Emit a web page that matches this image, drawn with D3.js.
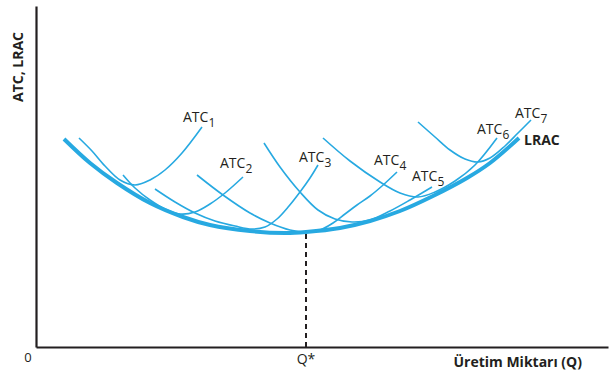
<!DOCTYPE html>
<html><head><meta charset="utf-8">
<script src="https://cdn.jsdelivr.net/npm/d3@7"></script>
<style>
html,body{margin:0;padding:0;background:#fff;}
svg{display:block;font-family:"Open Sans",sans-serif;}
</style></head>
<body><svg id="c" width="615" height="380"></svg>
<script>
// Data units: quantity (Q) and cost
const lrac = [[28,208],[54,184],[81,164],[114,144],[147,130],[174,122],[214,116],[249,114],[270,115],[304,119],[334,126],[364,136],[397,151],[431,169],[454,184],[483,209]];
const atc1 = [[43,209],[56,196],[69,181],[84,167],[99,162],[114,167],[129,177],[146,194],[166,220]];
const atc2 = [[87,172],[99,159],[114,147],[129,138],[144,133],[159,135],[174,143],[189,154],[207,170]];
const atc3 = [[119,158],[139,145],[159,134],[179,126],[199,121],[216,118],[229,120],[241,128],[253,141],[264,155],[274,169],[282,182]];
const atc4 = [[161,172],[187,152],[214,134],[234,124],[254,117],[270,115],[284,117],[297,124],[309,133],[321,142],[334,151],[346,161],[361,175]];
const atc5 = [[228,204],[244,180],[264,155],[282,137],[299,128],[316,125],[334,127],[354,136],[374,147],[396,160]];
const atc6 = [[287,209],[314,186],[344,165],[364,154],[382,150],[399,155],[419,166],[439,182],[461,209]];
const atc7 = [[382,225],[399,210],[414,197],[429,188],[442,185],[454,189],[469,201],[482,214],[495,227]];
const atcCurves = [atc1, atc2, atc3, atc4, atc5, atc6, atc7];
const atcSubs = ["1","2","3","4","5","6","7"];
const atcLabelPos = [[147,225],[184,179],[263,185],[338,182],[376,166],[441,213],[479,229]];
const lracLabelPos = [488,202];
const qStar = 270, qStarCost = 115;
const xTitle = "Üretim Miktarı (Q)";
const yTitle = "ATC, LRAC";
const originLabel = "0";
const qStarLabel = "Q*";

const svg = d3.select("#c");
const x = d3.scaleLinear().domain([0,572]).range([36,608]);
const y = d3.scaleLinear().domain([0,341]).range([347,6]);
const blue = "#27a9e1", dark = "#231f20";

const line = d3.line().x(d=>x(d[0])).y(d=>y(d[1])).curve(d3.curveCatmullRom.alpha(0.5));

// axes (no ticks)
svg.append("g").attr("transform",`translate(0,${y(0)})`)
  .call(d3.axisBottom(x).tickValues([]).tickSizeOuter(0));
svg.append("g").attr("transform",`translate(${x(0)},0)`)
  .call(d3.axisLeft(y).tickValues([]).tickSizeOuter(0));
svg.selectAll(".domain").attr("stroke",dark).attr("stroke-width",2.2);

// dashed Q* line
svg.append("line").attr("x1",x(qStar)).attr("x2",x(qStar))
  .attr("y1",y(0)).attr("y2",y(qStarCost-2))
  .attr("stroke",dark).attr("stroke-width",2).attr("stroke-dasharray","5,4");

// ATC curves
svg.append("g").selectAll("path").data(atcCurves).join("path")
  .attr("d",line).attr("fill","none").attr("stroke",blue).attr("stroke-width",1.6);

// LRAC
svg.append("path").datum(lrac).attr("d",line).attr("fill","none")
  .attr("stroke",blue).attr("stroke-width",4).attr("stroke-linecap","butt");

// ATC labels
atcLabelPos.forEach((p,i)=>{
  const t = svg.append("text").attr("x",x(p[0])).attr("y",y(p[1]))
    .attr("font-size",14).attr("fill",dark);
  t.append("tspan").text("ATC");
  t.append("tspan").attr("dy",5).attr("font-size",12).text(atcSubs[i]);
});
svg.append("text").attr("x",x(lracLabelPos[0])).attr("y",y(lracLabelPos[1]))
  .attr("font-size",14).attr("font-weight","bold").attr("fill",dark).text("LRAC");

// axis texts
svg.append("text").attr("x",28).attr("y",362).attr("text-anchor","middle")
  .attr("font-size",13).attr("fill",dark).text(originLabel);
svg.append("text").attr("x",x(qStar)).attr("y",364).attr("text-anchor","middle")
  .attr("font-size",14).attr("fill",dark).text(qStarLabel);
svg.append("text").attr("x",582).attr("y",367).attr("text-anchor","end")
  .attr("font-size",14).attr("font-weight","bold").attr("fill",dark).text(xTitle);
svg.append("text").attr("transform","translate(23,67) rotate(-90)").attr("text-anchor","middle")
  .attr("font-size",14).attr("font-weight","bold").attr("fill",dark).text(yTitle);
</script>
</body></html>
